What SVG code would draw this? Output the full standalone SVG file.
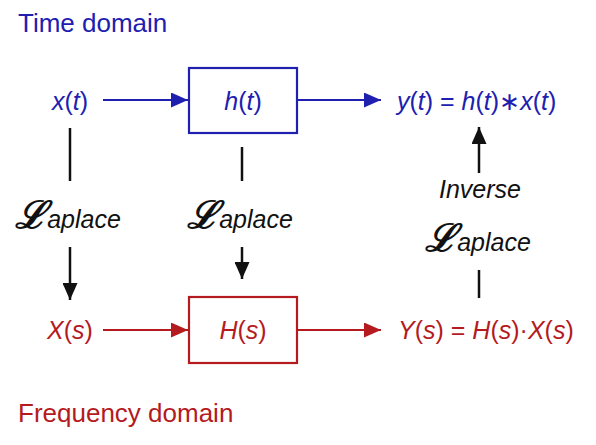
<svg xmlns="http://www.w3.org/2000/svg" width="596" height="445" viewBox="0 0 596 445">
<defs>
<style>
text{font-family:"Liberation Sans",Arial,sans-serif;font-size:25px}
.h{font-size:26px}
.i{font-style:italic}
.n{font-style:normal}
.b{fill:#2020b0}
.r{fill:#b41a1e}
.k{fill:#111}
.L{font-family:"DejaVu Serif",serif;font-style:italic;font-size:38px;font-weight:bold}
.bl{stroke:#2020b0;stroke-width:2.2;fill:none}
.rl{stroke:#b41a1e;stroke-width:2.2;fill:none}
.kl{stroke:#111;stroke-width:2.5;fill:none}
</style>
<marker id="ab" viewBox="0 0 17 15" refX="17" refY="7.5" markerUnits="userSpaceOnUse" markerWidth="17" markerHeight="15" orient="auto"><path d="M0,0L17,7.5L0,15z" fill="#2020b0"/></marker>
<marker id="ar" viewBox="0 0 17 15" refX="17" refY="7.5" markerUnits="userSpaceOnUse" markerWidth="17" markerHeight="15" orient="auto"><path d="M0,0L17,7.5L0,15z" fill="#b41a1e"/></marker>
<marker id="ak" viewBox="0 0 17 15" refX="17" refY="7.5" markerUnits="userSpaceOnUse" markerWidth="17" markerHeight="15" orient="auto"><path d="M0,0L17,7.5L0,15z" fill="#111"/></marker>
</defs>
<rect width="596" height="445" fill="#fff"/>
<text x="18" y="32" class="b h">Time domain</text>
<text x="18" y="422" class="r h">Frequency domain</text>
<g id="xt"><text x="70" y="110" text-anchor="middle" class="b i">x<tspan class="n">(</tspan>t<tspan class="n">)</tspan></text></g>
<g id="ht"><rect x="189" y="68" width="108" height="65" class="bl"/><text x="243" y="110" text-anchor="middle" class="b i">h<tspan class="n">(</tspan>t<tspan class="n">)</tspan></text></g>
<g id="yt"><text x="397" y="110" class="b i">y<tspan class="n">(</tspan>t<tspan class="n">) = </tspan>h<tspan class="n">(</tspan>t<tspan class="n">)∗</tspan>x<tspan class="n">(</tspan>t<tspan class="n">)</tspan></text></g>
<g id="Xs"><text x="70" y="339" text-anchor="middle" class="r i">X<tspan class="n">(</tspan>s<tspan class="n">)</tspan></text></g>
<g id="Hs"><rect x="189" y="297" width="108" height="66" class="rl"/><text x="243" y="339" text-anchor="middle" class="r i">H<tspan class="n">(</tspan>s<tspan class="n">)</tspan></text></g>
<g id="Ys"><text x="398" y="339" class="r i">Y<tspan class="n">(</tspan>s<tspan class="n">) = </tspan>H<tspan class="n">(</tspan>s<tspan class="n">)·</tspan>X<tspan class="n">(</tspan>s<tspan class="n">)</tspan></text></g>
<g id="lap1"><text x="68" y="228" text-anchor="middle" class="k"><tspan class="L">ℒ</tspan><tspan class="i">aplace</tspan></text></g>
<g id="lap2"><text x="240" y="228" text-anchor="middle" class="k"><tspan class="L">ℒ</tspan><tspan class="i">aplace</tspan></text></g>
<g id="lap3"><text x="480" y="198" text-anchor="middle" class="k i">Inverse</text><text x="478" y="251" text-anchor="middle" class="k"><tspan class="L">ℒ</tspan><tspan class="i">aplace</tspan></text></g>
<g id="connectors">
<line x1="103" y1="100" x2="188" y2="100" class="bl" marker-end="url(#ab)"/>
<line x1="297" y1="100" x2="381" y2="100" class="bl" marker-end="url(#ab)"/>
<line x1="103" y1="330" x2="188" y2="330" class="rl" marker-end="url(#ar)"/>
<line x1="297" y1="330" x2="381" y2="330" class="rl" marker-end="url(#ar)"/>
<line x1="70" y1="128" x2="70" y2="181" class="kl"/>
<line x1="70" y1="247" x2="70" y2="300" class="kl" marker-end="url(#ak)"/>
<line x1="242" y1="147" x2="242" y2="181" class="kl"/>
<line x1="242" y1="247" x2="242" y2="279" class="kl" marker-end="url(#ak)"/>
<line x1="479" y1="173" x2="479" y2="127" class="kl" marker-end="url(#ak)"/>
<line x1="479" y1="270" x2="479" y2="298" class="kl"/>
</g>
</svg>
